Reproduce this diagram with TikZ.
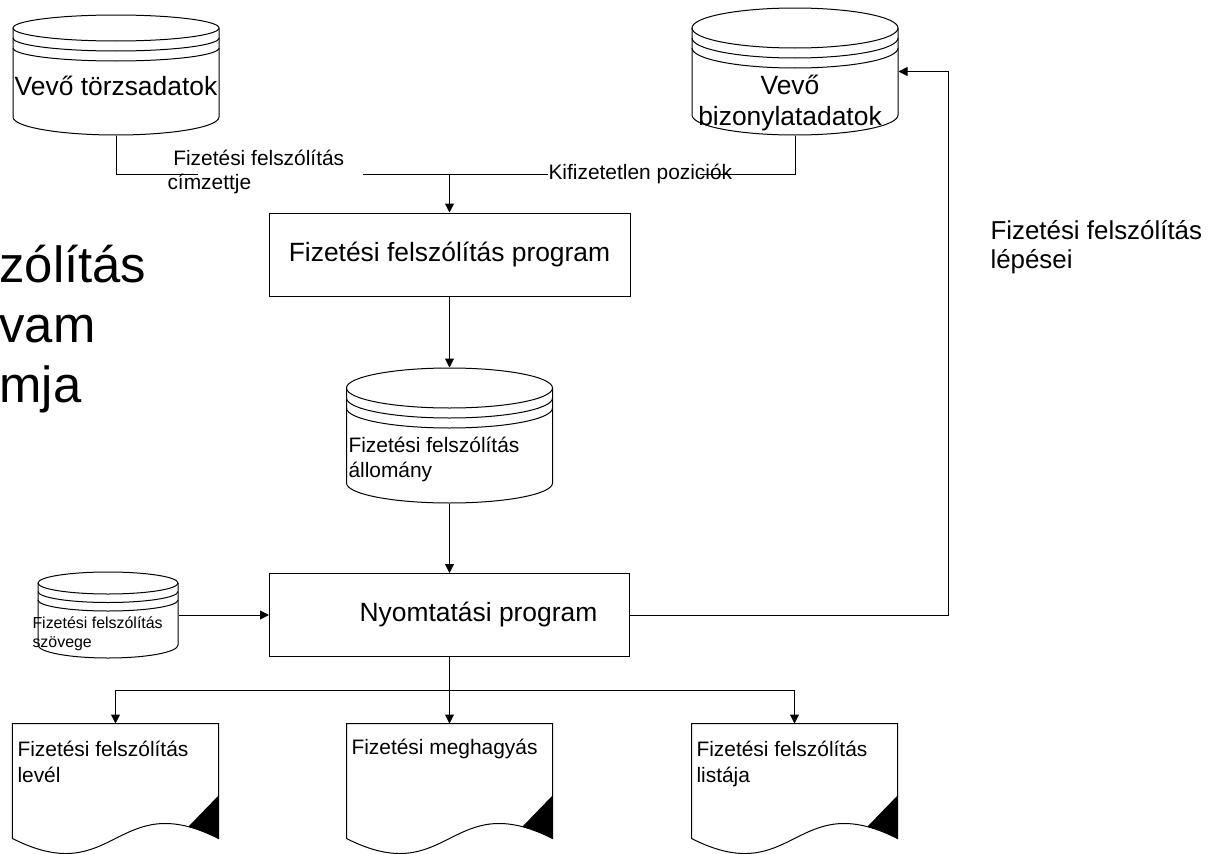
\documentclass[tikz,border=0pt]{standalone}
\usepackage{fontspec}
\setmainfont{Liberation Sans}
\usepackage{tikz}
\usetikzlibrary{calc, positioning, arrows.meta}

\tikzset{
    arr/.style={-{Triangle[length=9bp,width=9bp]}},
    box/.style={draw, inner sep=0pt, font=\fontsize{26.5}{31}\selectfont},
    docnode/.style={inner sep=0pt, minimum width=205bp, minimum height=114bp},
    bigtext/.style={inner sep=0pt, font=\fontsize{26.5}{31}\selectfont},
    sidetext/.style={inner sep=0pt, align=left, anchor=base west, font=\fontsize{26}{29}\selectfont},
    smalltext/.style={inner sep=0pt, align=left, anchor=base west, font=\fontsize{21}{24}\selectfont},
    doctext/.style={inner sep=0pt, align=left, anchor=base west, font=\fontsize{21}{26}\selectfont},
    tinytext/.style={inner sep=0pt, align=left, anchor=base west, font=\fontsize{16}{19}\selectfont},
    titletext/.style={inner sep=0pt, align=left, anchor=base west, font=\fontsize{51}{60}\selectfont}
}

% disk store: #1 name, #2 x, #3 y of top ellipse, #4 y where the sides end,
% #5 half width, #6 top radius, #7 bottom radius, #8 ring gap
\newcommand{\datastore}[8]{%
    \draw (#2,#3) ellipse [x radius=#5, y radius=#6];
    \foreach \ring in {1,2}
        \draw (#2-#5,#3+\ring*#8) arc [start angle=180, end angle=0, x radius=#5, y radius=#6];
    \draw (#2-#5,#3) -- (#2-#5,#4) arc [start angle=180, end angle=0, x radius=#5, y radius=#7] -- (#2+#5,#3);
    \node[inner sep=0pt, minimum width={2*#5*1bp}, minimum height={(#4+#7-#3+#6)*1bp}] (#1) at (#2,{(#3-#6+#4+#7)/2}) {};
}

% printed report: #1 name, #2 left x, #3 baseline of the last text line, #4 text
\newcommand{\printout}[4]{%
    \node[docnode] (#1) at (#2+102.5,781) {};
    \begin{scope}
        \clip (#1.south west) -- (#1.north west) -- (#1.north east) -- (#1.south east)
            .. controls ($(#1.south east)+(-102.5,-52)$) and ($(#1.south west)+(102.5,52)$) .. (#1.south west) -- cycle;
        \fill ($(#1.south east)+(0,-43)$) -- ($(#1.south east)+(-30,-12)$) -- ($(#1.south east)+(-30,30)$)
            -- ($(#1.south east)+(5,30)$) -- ($(#1.south east)+(5,-43)$) -- cycle;
    \end{scope}
    \draw (#1.south west) -- (#1.north west) -- (#1.north east) -- (#1.south east)
        .. controls ($(#1.south east)+(-102.5,-52)$) and ($(#1.south west)+(102.5,52)$) .. (#1.south west) -- cycle;
    \node[doctext] (#1-t) at (#2+4,#3) {#4};
}

\begin{document}
\begin{tikzpicture}[x=1bp, y=-1bp, line width=1bp]

    \useasboundingbox (0,0) rectangle (1213,854);

    % title, cut at the left edge
    \node[titletext] (title) at (-1,402) {zólítás\\vam\\mja};

    % stores on top
    \datastore{vt}{116}{28}{117}{103}{13}{18}{10}
    \node[bigtext, anchor=base] (vt-t) at (116,95) {Vevő törzsadatok};

    \datastore{vb}{795}{28}{115}{103}{20}{20}{10}
    \node[bigtext, anchor=base, align=center] (vb-t) at (790,125) {Vevő\\bizonylatadatok};

    % feed lines into the program
    \coordinate (j1) at (198,174);
    \coordinate (j2) at (363,174);
    \coordinate (jn) at (449.5,174);
    \coordinate (j3) at (548,174);
    \coordinate (j4) at (700,174);

    \draw (vt.south) |- (j1);
    \draw (j2) -- (j3);
    \draw (j4) -| (vb.south);

    \node[smalltext] (cimz) at (167,189) {\ Fizetési felszólítás\\címzettje};
    \node[inner sep=0pt, anchor=west, font=\fontsize{21}{24}\selectfont] (kif) at (j3) {Kifizetetlen poziciók};

    % programs
    \node[box, minimum width=361bp, minimum height=83bp] (prog) at (449.5,254.5) {Fizetési felszólítás program};
    \node[box, minimum width=360bp, minimum height=83bp] (nyomt) at (449.5,615) {\hspace*{58bp}Nyomtatási program};

    \draw[arr] (jn) -- (prog.north);

    % output file of the first program
    \datastore{allo}{449.5}{388}{483}{103}{20}{20}{10}
    \node[smalltext, font=\fontsize{21}{25}\selectfont] (allo-t) at (348,477) {Fizetési felszólítás\\állomány};

    \draw[arr] (prog.south) -- (allo.north);
    \draw[arr] (allo.south) -- (nyomt.north);

    % letter texts
    \datastore{szov}{108}{583}{645}{70}{11}{13}{8.5}
    \node[tinytext] (szov-t) at (32,647) {Fizetési felszólítás\\szövege};

    \draw[arr] (szov.east) -- (nyomt.west);

    % back to the documents store
    \coordinate (ret) at (948,615);
    \draw[arr] (nyomt.east) -- (ret) |- (vb.east);
    \node[sidetext] (lepes) at (990,268) {Fizetési felszólítás\\lépései};

    % printed outputs
    \printout{lev}{13}{782}{Fizetési felszólítás\\levél}
    \printout{megh}{347}{754}{Fizetési meghagyás}
    \printout{lista}{692}{782}{Fizetési felszólítás\\listája}

    \coordinate (split) at (449.5,690);
    \draw (nyomt.south) -- (split);
    \draw[arr] (split) -| (lev.north);
    \draw[arr] (split) -- (megh.north);
    \draw[arr] (split) -| (lista.north);

\end{tikzpicture}
\end{document}
